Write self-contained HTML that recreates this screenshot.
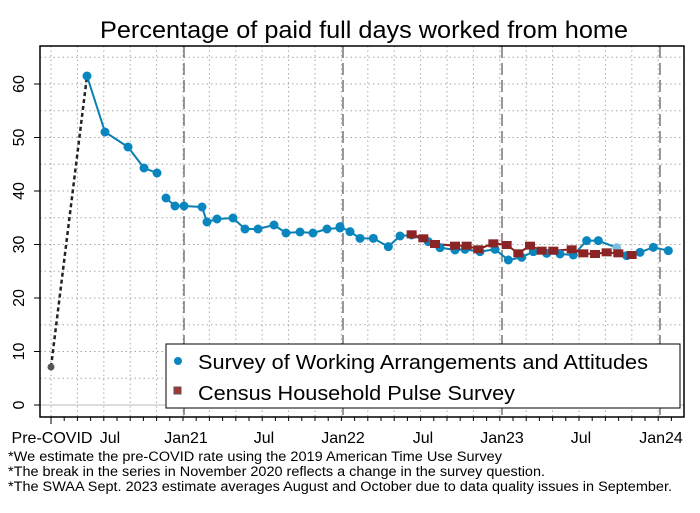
<!DOCTYPE html>
<html><head><meta charset="utf-8"><style>
html,body{margin:0;padding:0;background:#fff;}
svg{display:block;font-family:"Liberation Sans",Arial,sans-serif;}
</style></head><body>
<svg width="700" height="513" viewBox="0 0 700 513" xmlns="http://www.w3.org/2000/svg">
<rect width="700" height="513" fill="#fff"/>
<text x="100" y="38" font-size="24" textLength="528" lengthAdjust="spacingAndGlyphs" fill="#000">Percentage of paid full days worked from home</text>
<g id="grid" stroke="#aaa" stroke-width="1" stroke-dasharray="1.5,3"></g>
<line x1="40" y1="405" x2="684" y2="405" stroke="#bbb" stroke-width="1"/>
<g stroke="#777" stroke-width="1.5" stroke-dasharray="12,5">
<line x1="184" y1="46" x2="184" y2="417"/><line x1="343" y1="46" x2="343" y2="417"/>
<line x1="502" y1="46" x2="502" y2="417"/><line x1="660" y1="46" x2="660" y2="417"/>
</g>
<rect x="40" y="46" width="644" height="371" fill="none" stroke="#000" stroke-width="1.5"/>
<g id="ticks" stroke="#000" stroke-width="1"></g>
<g font-size="16" fill="#000" id="ylab"></g>
<g font-size="16" fill="#000" text-anchor="middle">
<text x="52" y="443">Pre-COVID</text><text x="110" y="443">Jul</text>
<text x="186" y="443">Jan21</text><text x="264" y="443">Jul</text>
<text x="343" y="443">Jan22</text><text x="423" y="443">Jul</text>
<text x="502" y="443">Jan23</text><text x="581" y="443">Jul</text>
<text x="661" y="443">Jan24</text>
</g>
<line x1="51" y1="367" x2="87" y2="76" stroke="#222" stroke-width="2.5" stroke-dasharray="4,3"/>
<circle cx="51" cy="367" r="3.5" fill="#555"/>
<g id="series"></g>
<rect x="166" y="344" width="514" height="64" fill="#fff" stroke="#000" stroke-width="1"/>
<circle cx="178" cy="361" r="4" fill="#0a86bf"/>
<rect x="174" y="387" width="7" height="7" fill="#a33" stroke="#555" stroke-width="1"/>
<text x="198" y="369" font-size="20" textLength="450" lengthAdjust="spacingAndGlyphs">Survey of Working Arrangements and Attitudes</text>
<text x="198" y="400" font-size="20" textLength="317" lengthAdjust="spacingAndGlyphs">Census Household Pulse Survey</text>
<g font-size="13.5" fill="#000">
<text x="8" y="461" textLength="494" lengthAdjust="spacingAndGlyphs">*We estimate the pre-COVID rate using the 2019 American Time Use Survey</text>
<text x="8" y="476" textLength="537" lengthAdjust="spacingAndGlyphs">*The break in the series in November 2020 reflects a change in the survey question.</text>
<text x="8" y="491" textLength="664" lengthAdjust="spacingAndGlyphs">*The SWAA Sept. 2023 estimate averages August and October due to data quality issues in September.</text>
</g>
<script>
var ns="http://www.w3.org/2000/svg";
function el(t,a,p){var e=document.createElementNS(ns,t);for(var k in a)e.setAttribute(k,a[k]);p.appendChild(e);return e;}
var g=document.getElementById('grid');
for(var v=5;v<=65;v+=5){var y=405-5.35*v;el('line',{x1:40,y1:y,x2:684,y2:y},g);}
for(var x=51;x<684;x+=26.4){el('line',{x1:x,y1:46,x2:x,y2:417},g);}
var t=document.getElementById('ticks');
for(var v=0;v<=60;v+=10){var y=405-5.35*v;el('line',{x1:34,y1:y,x2:40,y2:y},t);
 var tx=el('text',{x:0,y:0,transform:'translate(24,'+y+') rotate(-90)','text-anchor':'middle',stroke:'none'},document.getElementById('ylab'));tx.textContent=v;}
for(var x=51;x<684;x+=13.2){el('line',{x1:x,y1:417,x2:x,y2:(Math.abs(x-51)<1?424:421)},t);}
var s=document.getElementById('series');
var b=[[87,76],[105,132],[128,147],[144,168],[157,173]];
var b2=[[166,198],[175,206],[184,206],[202,207],[207,222],[217,219],[233,218],[245,229],[258,229],[274,225],[286,233],[300,232],[313,233],[327,229],[340,228]];
var z=[[0,80],[30,95],[60,115],[100,115],[145,140],[180,108],[215,105],[265,125],[300,143],[345,150],[375,148],[420,155],[465,148],[505,180],[545,172],[580,155],[620,160],[660,162],[700,165],[740,122],[775,122],[830,143],[860,167],[900,157],[940,142],[985,152]];
z.forEach(function(p){b2.push([340+p[0]/3,200+p[1]/3]);});
var r=[[215,103],[250,115],[285,132],[345,137],[380,137],[415,148],[460,130],[500,135],[535,160],[570,137],[605,152],[640,152],[695,148],[730,160],[765,162],[800,157],[835,160],[875,165]].map(function(p){return[340+p[0]/3,200+p[1]/3];});
function pl(a,c){el('polyline',{points:a.map(function(p){return p.join(',')}).join(' '),fill:'none',stroke:c,'stroke-width':2},s);}
pl(b,'#0a7fb0');pl(b2,'#0a7fb0');pl(r,'#8b1a1a');
b.concat(b2).forEach(function(p,i){el('circle',{cx:p[0],cy:p[1],r:4.5,fill:(Math.abs(p[0]-616.7)<1?'#7fbde0':'#0a86bf')},s);});
r.forEach(function(p){el('rect',{x:p[0]-5,y:p[1]-4,width:10,height:8,fill:'#8b2525'},s);});
</script>
</svg>
</body></html>
